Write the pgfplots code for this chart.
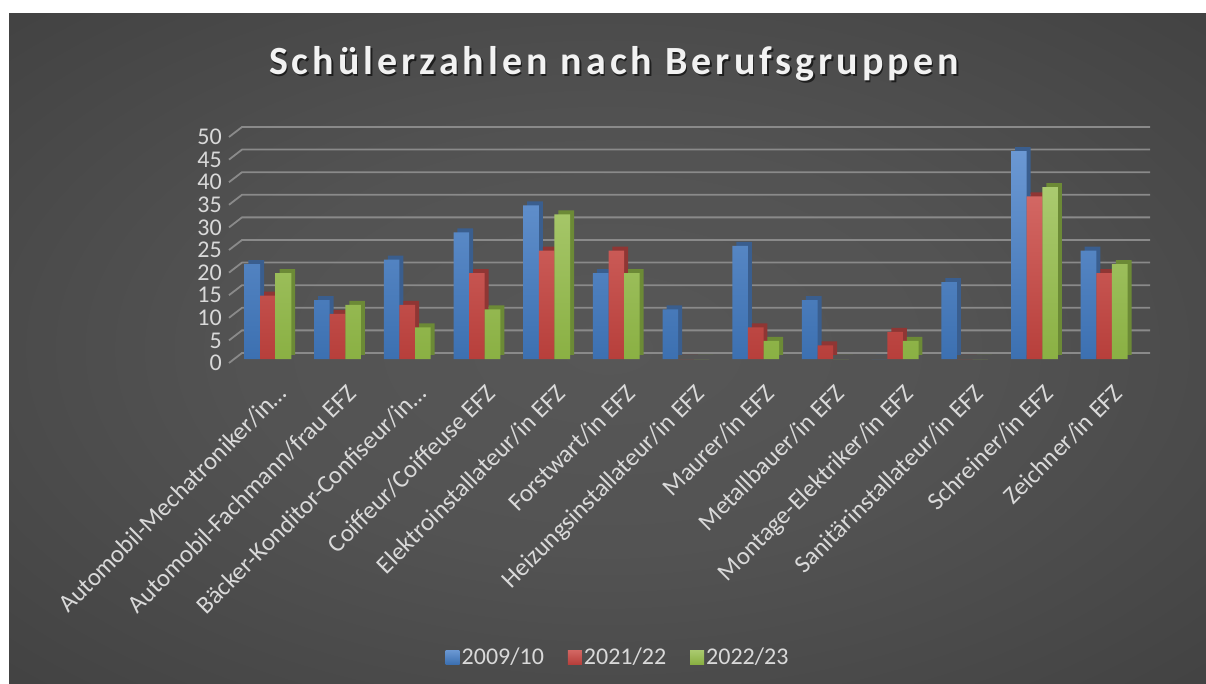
\documentclass[border=0pt]{standalone}
\usepackage{fontspec}
\setmainfont{Carlito}
\newfontfamily\titlefont[LetterSpace=10]{Carlito}
\usepackage{pgfplots}
\pgfplotsset{compat=1.18}
\usepackage{pgfplotstable}
\definecolor{bgin}{HTML}{575757}
\definecolor{bgout}{HTML}{252525}
\definecolor{lbl}{HTML}{D9D9D9}
\definecolor{gridc}{HTML}{8A8A8A}
\definecolor{blueT}{HTML}{6B98D3}
\definecolor{blueB}{HTML}{3C70B1}
\definecolor{blueS}{HTML}{3A5E8E}
\definecolor{redT}{HTML}{D36763}
\definecolor{redB}{HTML}{B73F3B}
\definecolor{redS}{HTML}{8F3634}
\definecolor{greenT}{HTML}{AACA6F}
\definecolor{greenB}{HTML}{8AB043}
\definecolor{greenS}{HTML}{6C8A36}
\pgfdeclareradialshading{bgshade}{\pgfpoint{0bp}{0bp}}{color(0bp)=(bgin); color(15bp)=(bgin!92!bgout); color(72bp)=(bgout)}

\pgfplotstableread{
idx a b c
0 21 14 19
1 13 10 12
2 22 12 7
3 28 19 11
4 34 24 32
5 19 24 19
6 11 0 0
7 25 7 4
8 13 3 0
9 0 6 4
10 17 0 0
11 46 36 38
12 24 19 21
}\datatable

\begin{document}
\begin{tikzpicture}
\fill[white] (0bp,0bp) rectangle (1206bp,684bp);
\shade[shading=bgshade] (9bp,0bp) rectangle (1206bp,670bp);
\node[text=black, opacity=0.6, font=\titlefont\bfseries\fontsize{40bp}{44bp}\selectfont] at (615.5bp,618.5bp) {Schülerzahlen nach Berufsgruppen};
\node[text=white!95!black, font=\titlefont\bfseries\fontsize{40bp}{44bp}\selectfont] at (614bp,620bp) {Schülerzahlen nach Berufsgruppen};
\begin{axis}[
  at={(233bp,325bp)}, anchor=south west,
  scale only axis, width=906bp, height=226bp,
  xmin=-0.5, xmax=12.5, ymin=0, ymax=50,
  axis line style={draw=none},
  major tick length=0pt,
  xtick={0,...,12},
  xticklabels={Automobil-Mechatroniker/in…\hspace{-17bp}, Automobil-Fachmann/frau EFZ, Bäcker-Konditor-Confiseur/in…\hspace{-17bp}, Coiffeur/Coiffeuse EFZ, Elektroinstallateur/in EFZ, Forstwart/in EFZ, Heizungsinstallateur/in EFZ, Maurer/in EFZ, Metallbauer/in EFZ, Montage-Elektriker/in EFZ, Sanitärinstallateur/in EFZ, Schreiner/in EFZ, Zeichner/in EFZ},
  ytick={0,5,...,50},
  /pgf/number format/assume math mode=true,
  yticklabel style={text=lbl, font=\fontsize{24bp}{26bp}\selectfont, anchor=east, inner sep=0pt, xshift=-11bp, yshift=-4bp},
  xticklabel style={text=lbl, font=\fontsize{25bp}{27bp}\selectfont, rotate=45, anchor=north east, inner sep=0pt, xshift=-11bp, yshift=-22bp},
  legend style={at={(0.425,-1.319)}, anchor=center, draw=none, fill=none, text=lbl, font=\fontsize{24bp}{26bp}\selectfont, legend columns=-1, /tikz/every even column/.append style={column sep=22bp}},
  legend image code/.code={\fill[#1] (-4bp,-7bp) rectangle (10bp,7bp);},
  clip=false,
]
\pgfplotsinvokeforeach{0,5,...,50}{
  \draw[gridc, line width=1.8bp] ([xshift=-4bp,yshift=-4bp]axis cs:-0.5,#1) -- ([xshift=9bp,yshift=6bp]axis cs:-0.5,#1) -- ([xshift=11bp,yshift=6bp]axis cs:12.5,#1);
}
\addplot[ybar, bar width=0.224, bar shift=-0.167, fill=blueS, draw=none, yshift=4bp, forget plot] table[x=idx,y=a]{\datatable};
\addplot[ybar, bar width=0.224, bar shift=-0.224, top color=blueT, bottom color=blueB, draw=none] table[x=idx,y=a]{\datatable};
\addplot[ybar, bar width=0.224, bar shift=0.057, fill=redS, draw=none, yshift=4bp, forget plot] table[x=idx,y=b]{\datatable};
\addplot[ybar, bar width=0.224, bar shift=0, top color=redT, bottom color=redB, draw=none] table[x=idx,y=b]{\datatable};
\addplot[ybar, bar width=0.224, bar shift=0.281, fill=greenS, draw=none, yshift=4bp, forget plot] table[x=idx,y=c]{\datatable};
\addplot[ybar, bar width=0.224, bar shift=0.224, top color=greenT, bottom color=greenB, draw=none] table[x=idx,y=c]{\datatable};
\legend{2009/10, 2021/22, 2022/23}
\end{axis}
\end{tikzpicture}
\end{document}
